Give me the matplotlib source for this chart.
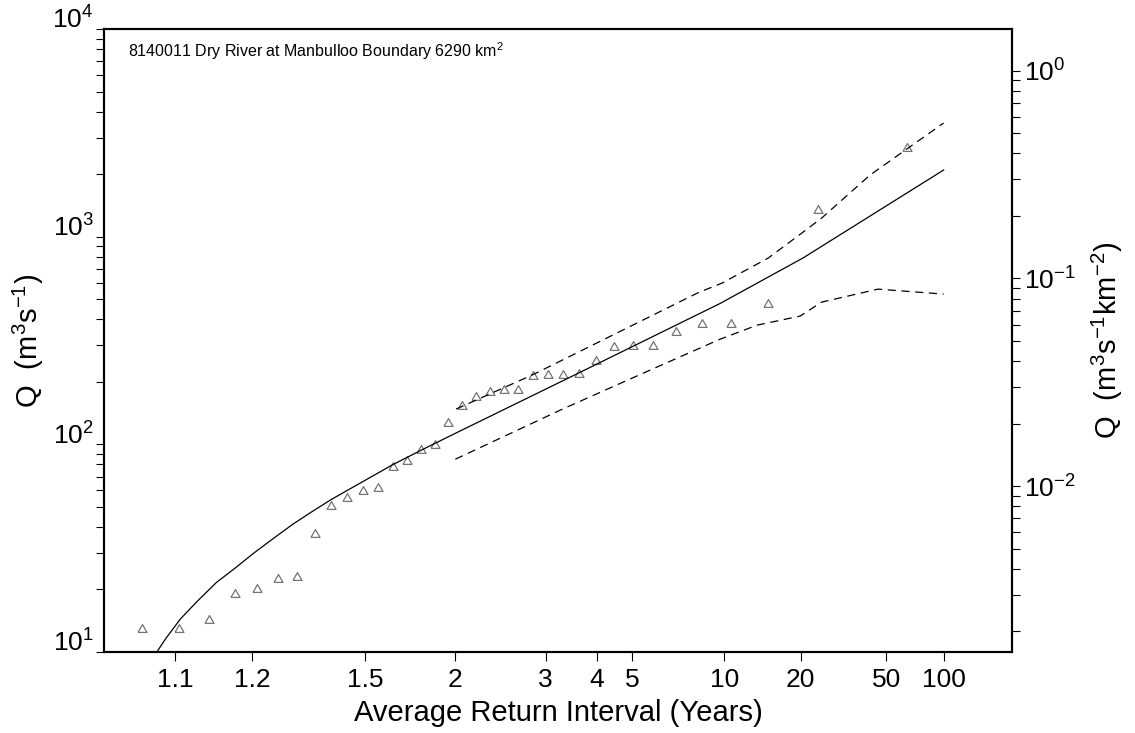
import numpy as np
import matplotlib
matplotlib.use("Agg")
import matplotlib.pyplot as plt
from statistics import NormalDist

plt.rcParams['font.family'] = ['Liberation Sans', 'DejaVu Sans']
plt.rcParams['mathtext.fontset'] = 'custom'
plt.rcParams['mathtext.rm'] = 'Liberation Sans'
plt.rcParams['mathtext.it'] = 'Liberation Sans:italic'
plt.rcParams['mathtext.default'] = 'regular'

AREA = 6290  # catchment area, km2

# ranked annual maxima (m3/s) and their plotting positions (years)
obs_ari = [63.67, 23.88, 14.69, 10.61, 8.304, 6.821, 5.788, 5.026, 4.442, 3.979,
           3.604, 3.293, 3.032, 2.809, 2.616, 2.449, 2.301, 2.170, 2.054, 1.949,
           1.854, 1.769, 1.690, 1.619, 1.553, 1.492, 1.436, 1.384, 1.336, 1.290,
           1.248, 1.209, 1.172, 1.137, 1.104, 1.073]
obs_q = [2700, 1360, 479, 384, 382, 352, 300, 300, 297, 256,
         221, 217, 217, 215, 184, 184, 180, 171, 155, 128,
         100, 94.5, 83.7, 78.8, 62.4, 60.6, 55.5, 51.0, 37.5, 23.2,
         22.7, 20.3, 19.2, 14.4, 13.1, 13.1]

# fitted quantile curve
fit_ari = [1.084, 1.091, 1.105, 1.122, 1.146, 1.172, 1.203, 1.239, 1.280, 1.327,
           1.384, 1.617, 1.771, 2.0, 3.6, 9.66, 20.5, 100]
fit_q = [10.0, 11.5, 14.4, 17.4, 21.6, 25.3, 30.0, 35.2, 41.1, 47.2,
         54.3, 79.5, 93.7, 113, 221, 477, 790, 2094]

# confidence limits
upper_ari = [2.005, 2.807, 8.07, 9.81, 14.7, 20.5, 24.7, 41.5, 100]
upper_q = [147.8, 216.2, 536.7, 597.7, 788.8, 1052, 1229, 1980, 3526]
lower_ari = [2.0, 3.24, 5.66, 9.66, 13.3, 19.9, 24.7, 45.4, 100]
lower_q = [84.8, 146.1, 227.8, 321, 375, 414.5, 484, 559, 529]

xticks = [1.1, 1.2, 1.5, 2, 3, 4, 5, 10, 20, 50, 100]
xticklabels = ['1.1', '1.2', '1.5', '2', '3', '4', '5', '10', '20', '50', '100']

_nd = NormalDist()
_ppf = np.vectorize(_nd.inv_cdf, otypes=[float])
_cdf = np.vectorize(_nd.cdf, otypes=[float])


def ari_to_z(t):
    t = np.asarray(t, dtype=float)
    p = 1.0 - 1.0 / np.clip(t, 1.0000001, None)
    return _ppf(np.clip(p, 1e-12, 1 - 1e-12))


def z_to_ari(z):
    z = np.asarray(z, dtype=float)
    return 1.0 / np.clip(1.0 - _cdf(z), 1e-300, None)


fig = plt.figure(figsize=(11.35, 7.33), dpi=100)
ax = fig.add_axes([104 / 1135, 81 / 733, 908 / 1135, 623 / 733])
ax.set_xscale('function', functions=(ari_to_z, z_to_ari))
ax.set_yscale('log')

tri = [(-1, -0.866), (1, -0.866), (0, 0.866), (-1, -0.866)]
ax.plot(obs_ari, obs_q, linestyle='none', marker=tri, markersize=6.5,
        markerfacecolor='none', markeredgecolor='0.45', markeredgewidth=0.9)
ax.plot(fit_ari, fit_q, color='black', linewidth=0.9)
ax.plot(upper_ari, upper_q, color='black', linewidth=0.9, dashes=(6.5, 4.5))
ax.plot(lower_ari, lower_q, color='black', linewidth=0.9, dashes=(6.5, 4.5))

ax.set_xlim(1.0494, 250)
ax.set_ylim(10, 10000)

ax.set_xticks(xticks)
ax.set_xticklabels(xticklabels)
ax.xaxis.set_minor_locator(matplotlib.ticker.NullLocator())

ymaj = [10, 100, 1000, 10000]
ymin = [m * d for d in [10, 100, 1000] for m in range(2, 10)]
ax.set_yticks(ymaj)
ax.set_yticklabels(['$10^{1}$', '$10^{2}$', '$10^{3}$', '$10^{4}$'])
ax.set_yticks(ymin, minor=True)
ax.yaxis.set_minor_formatter(matplotlib.ticker.NullFormatter())
for t in ax.yaxis.get_major_ticks():
    t.label1.set_verticalalignment('baseline')

ax.tick_params(axis='x', which='both', direction='out', length=6.5, width=0.8,
               labelsize=19, pad=5)
ax.tick_params(axis='y', which='both', direction='out', length=6, width=0.8,
               labelsize=19, pad=1.5)

ax2 = ax.twinx()
ax2.set_yscale('log')
ax2.set_ylim(10 / AREA, 10000 / AREA)
ax2.set_yticks([0.01, 0.1, 1])
ax2.set_yticklabels(['$10^{-2}$', '$10^{-1}$', '$10^{0}$'])
r_min = [m * d for d in [0.001, 0.01, 0.1] for m in range(2, 10)]
ax2.set_yticks([v for v in r_min if 10 / AREA <= v <= 10000 / AREA], minor=True)
ax2.yaxis.set_minor_formatter(matplotlib.ticker.NullFormatter())
ax2.tick_params(axis='y', which='both', direction='out', length=6, width=0.8,
                labelsize=19, pad=3)

for a in (ax, ax2):
    for s in a.spines.values():
        s.set_linewidth(1.5)

ax.set_xlabel('Average Return Interval (Years)', fontsize=21, labelpad=5)
ax.set_ylabel('Q  (m$^{3}$s$^{-1}$)', fontsize=21)
ax.yaxis.set_label_coords(-0.064, 0.5)
ax2.set_ylabel('Q  (m$^{3}$s$^{-1}$km$^{-2}$)', fontsize=21)
ax2.yaxis.set_label_coords(1.086, 0.5)

ax.text(0.026, 0.955, '8140011 Dry River at Manbulloo Boundary 6290 km$^{2}$',
        transform=ax.transAxes, fontsize=11.5, va='baseline', ha='left')

fig.savefig('out.png', dpi=100)
